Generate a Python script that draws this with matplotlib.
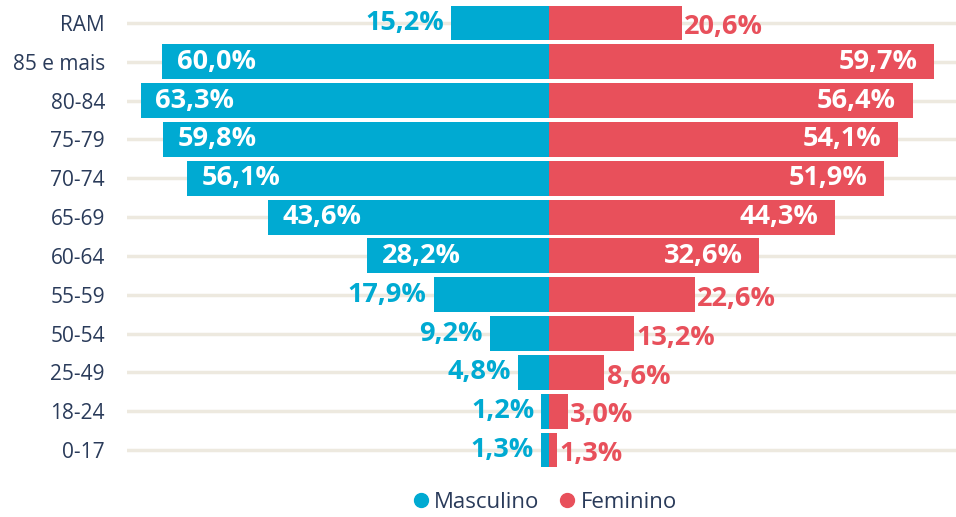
import numpy as np
import matplotlib.pyplot as plt

# dados (de cima para baixo)
faixas = ["RAM", "85 e mais", "80-84", "75-79", "70-74", "65-69",
          "60-64", "55-59", "50-54", "25-49", "18-24", "0-17"]
masculino = [15.2, 60.0, 63.3, 59.8, 56.1, 43.6, 28.2, 17.9, 9.2, 4.8, 1.2, 1.3]
feminino = [20.6, 59.7, 56.4, 54.1, 51.9, 44.3, 32.6, 22.6, 13.2, 8.6, 3.0, 1.3]

AZUL = "#00AAD2"
VERMELHO = "#E8505B"
TEXTO = "#2A3B5A"
GRELHA = "#EDE9DF"

plt.rcParams["font.family"] = ["Open Sans", "DejaVu Sans"]

fig = plt.figure(figsize=(9.56, 5.17), dpi=100)
ax = fig.add_axes([0.133, 0.092, 0.867, 0.901])

y = np.arange(len(faixas))[::-1]

for yi in y:
    ax.axhline(yi, color=GRELHA, lw=2.5, zorder=0)

ax.barh(y, [-v for v in masculino], height=0.9, color=AZUL, zorder=2)
ax.barh(y, feminino, height=0.9, color=VERMELHO, zorder=2)

LIMIAR = 25
FS = 19.5
for yi, v in zip(y, masculino):
    txt = f"{v:.1f}%".replace(".", ",")
    if v >= LIMIAR:
        ax.annotate(txt, (-v, yi), xytext=(10.5, 0), textcoords="offset points",
                    ha="left", va="center", color="white", fontsize=FS,
                    fontweight="bold", zorder=3)
    else:
        ax.annotate(txt, (-v, yi), xytext=(-5, 0), textcoords="offset points",
                    ha="right", va="center", color=AZUL, fontsize=FS,
                    fontweight="bold", zorder=3)

for yi, v in zip(y, feminino):
    txt = f"{v:.1f}%".replace(".", ",")
    if v >= LIMIAR:
        ax.annotate(txt, (v, yi), xytext=(-12, 0), textcoords="offset points",
                    ha="right", va="center", color="white", fontsize=FS,
                    fontweight="bold", zorder=3)
    else:
        ax.annotate(txt, (v, yi), xytext=(1.5, -3), textcoords="offset points",
                    ha="left", va="center", color=VERMELHO, fontsize=FS,
                    fontweight="bold", zorder=3)

ax.set_xlim(-65.4, 63.1)
ax.set_ylim(-0.5, len(faixas) - 0.5)
ax.set_yticks(y)
ax.set_yticklabels(faixas, fontsize=15, color=TEXTO)
ax.tick_params(axis="y", length=0, pad=16)
ax.set_xticks([])
for s in ax.spines.values():
    s.set_visible(False)

# legenda
h1 = plt.Line2D([], [], marker="o", ls="", color=AZUL, markersize=10)
h2 = plt.Line2D([], [], marker="o", ls="", color=VERMELHO, markersize=10)
fig.legend([h1, h2], ["Masculino", "Feminino"], loc="center",
           bbox_to_anchor=(0.570, 0.028), ncol=2, frameon=False,
           fontsize=16, labelcolor=TEXTO, handlelength=0.7,
           handletextpad=0.25, columnspacing=0.9, borderpad=0.2)

plt.savefig("out.png", dpi=100)
